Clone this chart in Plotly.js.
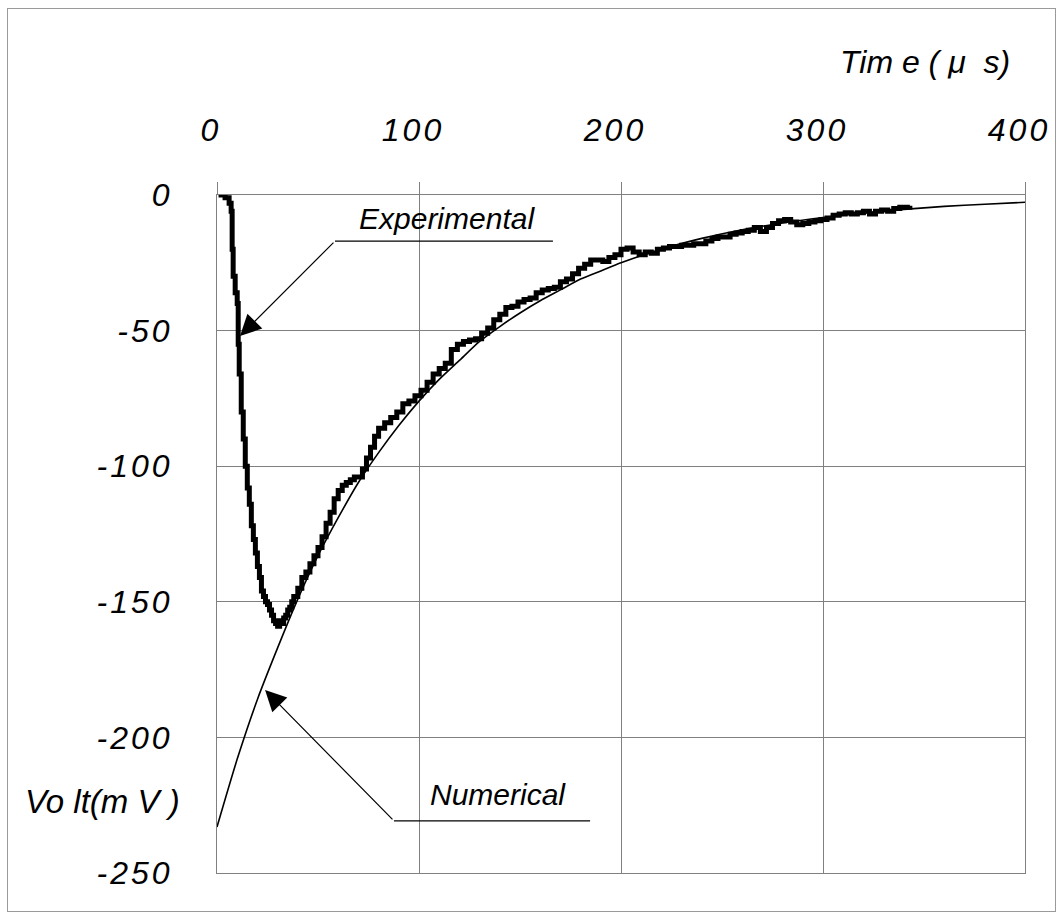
<!DOCTYPE html>
<html>
<head>
<meta charset="utf-8">
<script src="https://cdn.plot.ly/plotly-3.0.1.min.js"></script>
<style>
  html, body { margin: 0; padding: 0; background: #fff; }
  #wrap { position: relative; width: 1059px; height: 918px; }
  #chart { width: 1059px; height: 918px; }
  #frame { position: absolute; left: 7px; top: 8px; width: 1049px; height: 904px;
           border: 1px solid #9a9a9a; box-sizing: border-box; pointer-events: none; }
  .xtick text, .ytick text { letter-spacing: 3px; }
</style>
</head>
<body>
<div id="wrap">
  <div id="chart"></div>
  <div id="frame"></div>
</div>
<script>
// ---- Data ----
const expTime = [0, 2, 4, 6, 7, 7.5, 8, 9, 10, 10.5, 11, 12, 13, 14, 15, 16, 17, 18, 19, 20,
  21, 22, 23, 24, 25, 26, 27, 28, 29, 30, 31, 32, 33, 34, 35, 36, 37, 38, 40, 42,
  44, 46, 48, 50, 52, 54, 56, 58, 60, 62, 64, 66, 68, 70, 72, 74, 76, 78, 80, 83,
  86, 89, 92, 95, 98, 101, 104, 107, 110, 113, 116, 119, 122, 125, 128, 131, 134, 137, 140, 143,
  146, 149, 152, 155, 158, 161, 164, 167, 170, 173, 176, 179, 182, 185, 188, 191, 194, 197, 200, 203,
  206, 209, 212, 215, 218, 221, 224, 227, 230, 233, 236, 239, 242, 245, 248, 251, 254, 257, 260, 263,
  266, 269, 272, 275, 278, 281, 284, 287, 290, 293, 296, 299, 302, 305, 308, 311, 314, 317, 320, 323,
  326, 329, 332, 335, 338, 341, 343];
const expVolt = [1, 0, -1, -3, -6, -20, -30, -36, -40, -55, -66, -80, -90, -100, -108, -114, -122, -127, -132, -137,
  -141, -146, -148, -150, -151, -153, -155, -157, -158, -159, -157, -158, -156, -155, -153, -152, -150, -148, -145, -141,
  -139, -136, -133, -130, -126, -121, -117, -112, -109, -107, -106, -105, -104, -104, -101, -97, -93, -89, -86, -84,
  -82, -80, -77, -76, -74, -72, -69, -66, -64, -62, -57, -55, -54, -53.5, -53, -51, -49, -46, -44, -41.5,
  -41, -39.5, -38.5, -38, -36, -35, -34.5, -34, -32, -31, -29, -27, -25.5, -24, -24, -24.5, -23, -22, -20, -19.5,
  -21, -22, -21, -21.5, -20, -19.5, -19, -19, -18.5, -18.5, -18, -18, -17, -16, -15.5, -15.5, -14.5, -14, -13.5, -13,
  -12, -13.5, -12, -10.5, -9.5, -9, -10, -11, -10.5, -10, -9.5, -9, -8.5, -7.5, -7, -6.5, -7, -6.5, -6, -7,
  -6, -5.5, -6, -5, -4.5, -4.5, -4];

const numTime = [0, 10, 20, 30, 40, 50, 60, 70, 80, 90, 100, 110, 120, 130, 140, 150, 160, 170, 180, 190,
  200, 220, 240, 260, 280, 300, 320, 340, 360, 380, 400];
const numVolt = [-233, -208, -186, -167, -149, -133, -119, -106, -95, -85, -76, -68, -61, -54, -48.5, -43.5, -39, -35, -31, -28,
  -25, -20, -16, -12.8, -10.3, -8.3, -6.6, -5.3, -4.2, -3.4, -2.7];

const xTickVals = [0, 100, 200, 300, 400];
const xTickText = ['0', '100', '200', '300', '400'];
const yTickVals = [0, -50, -100, -150, -200, -250];
const yTickText = ['0', '-50', '-100', '-150', '-200', '-250'];

const xTitle = 'Tim e ( μ  s)';
const yTitle = 'Vo lt(m V )';
const labelExp = 'Experimental';
const labelNum = 'Numerical';

// leader geometry (data units): tip, elbow, end of horizontal rule, label position
const expTip = [11.4, -52], expElbow = [58.4, -17], expEnd = 166.3, expLabel = [113.9, -8.5];
const numTip = [23.8, -182.5], numElbow = [87.6, -230.8], numEnd = 184.7, numLabel = [139.1, -220.9];

const FONT = 'Liberation Sans, Arial, sans-serif';

const traces = [
  { x: numTime, y: numVolt, mode: 'lines', line: { color: '#000', width: 1.6, shape: 'spline', smoothing: 0.6 },
    hoverinfo: 'skip', showlegend: false },
  { x: expTime, y: expVolt, mode: 'lines', line: { color: '#000', width: 5, shape: 'hv' },
    hoverinfo: 'skip', showlegend: false }
];

const gridCol = '#808080';
const layout = {
  width: 1059, height: 918,
  margin: { l: 217, r: 34, t: 195, b: 45 },
  paper_bgcolor: '#fff', plot_bgcolor: '#fff',
  showlegend: false,
  xaxis: {
    range: [0, 400], side: 'top', tickvals: xTickVals, ticktext: xTickText,
    showgrid: true, gridcolor: gridCol, gridwidth: 1, zeroline: false,
    showline: true, mirror: true, linecolor: gridCol, linewidth: 1,
    ticks: 'outside', ticklen: 12, tickcolor: gridCol, tickwidth: 1,
    ticklabelstandoff: 28, ticklabelshift: -6,
    tickfont: { family: FONT, size: 32, color: '#000', style: 'italic' }
  },
  yaxis: {
    range: [-250, 0], tickvals: yTickVals, ticktext: yTickText,
    showgrid: true, gridcolor: gridCol, gridwidth: 1, zeroline: false,
    showline: true, mirror: true, linecolor: gridCol, linewidth: 1,
    ticks: '', ticklabelstandoff: 37,
    tickfont: { family: FONT, size: 32, color: '#000', style: 'italic' }
  },
  shapes: [
    { type: 'line', xref: 'x', yref: 'y', x0: expElbow[0], y0: expElbow[1], x1: expEnd, y1: expElbow[1],
      line: { color: '#000', width: 1.2 } },
    { type: 'line', xref: 'x', yref: 'y', x0: numElbow[0], y0: numElbow[1], x1: numEnd, y1: numElbow[1],
      line: { color: '#000', width: 1.2 } }
  ],
  annotations: [
    { x: expTip[0], y: expTip[1], ax: expElbow[0], ay: expElbow[1], axref: 'x', ayref: 'y', xref: 'x', yref: 'y',
      text: '', showarrow: true, arrowhead: 2, arrowsize: 3.5, arrowwidth: 1.2, arrowcolor: '#000', standoff: 0, startstandoff: 0 },
    { x: numTip[0], y: numTip[1], ax: numElbow[0], ay: numElbow[1], axref: 'x', ayref: 'y', xref: 'x', yref: 'y',
      text: '', showarrow: true, arrowhead: 2, arrowsize: 3.5, arrowwidth: 1.2, arrowcolor: '#000', standoff: 0, startstandoff: 0 },
    { x: expLabel[0], y: expLabel[1], xref: 'x', yref: 'y', text: labelExp, showarrow: false,
      xanchor: 'center', yanchor: 'middle',
      font: { family: FONT, size: 30, color: '#000', style: 'italic' } },
    { x: numLabel[0], y: numLabel[1], xref: 'x', yref: 'y', text: labelNum, showarrow: false,
      xanchor: 'center', yanchor: 'middle',
      font: { family: FONT, size: 30, color: '#000', style: 'italic' } },
    { x: 0.876, y: 1.196, xref: 'paper', yref: 'paper', text: xTitle, showarrow: false,
      xanchor: 'center', yanchor: 'middle',
      font: { family: FONT, size: 32, color: '#000', style: 'italic' } },
    { x: -0.142, y: 0.106, xref: 'paper', yref: 'paper', text: yTitle, showarrow: false,
      xanchor: 'center', yanchor: 'middle',
      font: { family: FONT, size: 33, color: '#000', style: 'italic' } }
  ]
};

Plotly.newPlot('chart', traces, layout, { staticPlot: true, displayModeBar: false });
</script>
</body>
</html>
